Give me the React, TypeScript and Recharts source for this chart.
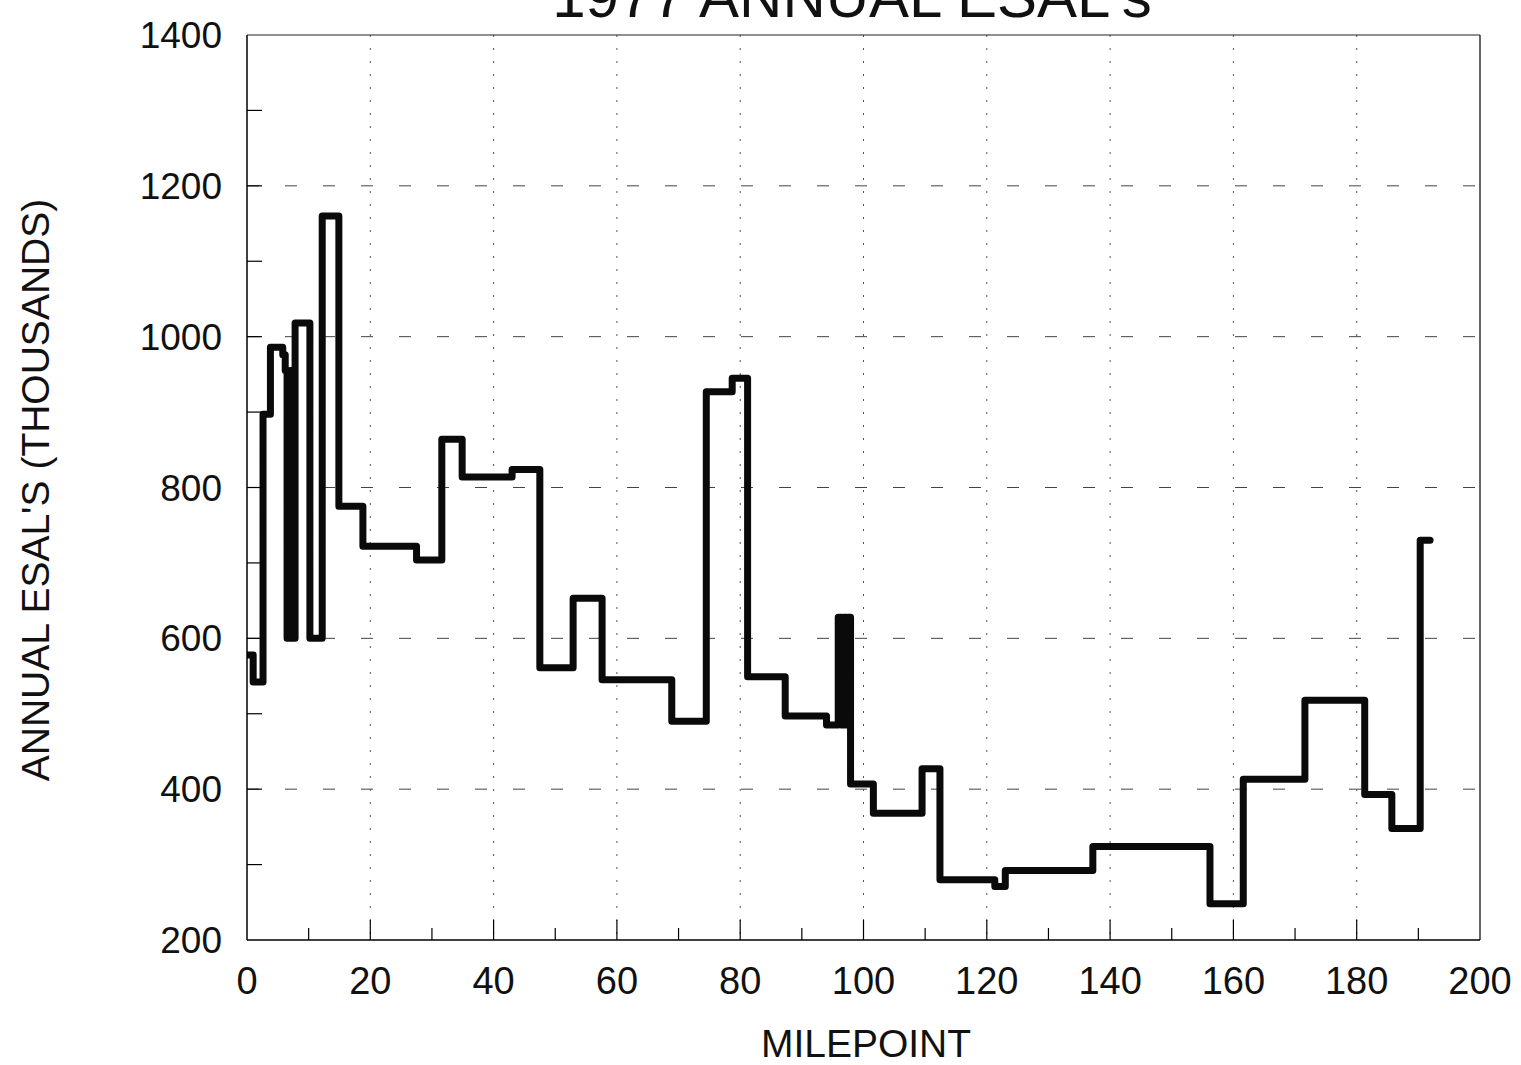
import React from "react";
import {
  LineChart,
  Line,
  XAxis,
  YAxis,
  CartesianGrid,
  ReferenceLine,
} from "recharts";

// Milepoint where each ESAL level begins (step-after)
const milepoints = [
  0, 1.0, 2.6, 3.8, 5.8, 6.2, 6.5, 7.0, 7.4, 7.8, 10.2, 12.2, 14.9, 18.8,
  27.5, 31.6, 34.9, 43.0, 47.5, 52.9, 57.6, 68.9, 74.5, 78.7, 81.2, 87.3,
  94.0, 95.9, 96.4, 96.8, 97.2, 97.5, 97.9, 101.6, 109.5, 112.4, 121.3, 123.0,
  137.2, 156.2, 161.6, 171.6, 181.3, 185.7, 190.3, 191.9,
];
// Annual ESALs (thousands)
const esals = [
  578, 542, 897, 986, 976, 955, 600, 955, 600, 1018, 600, 1160, 775, 722,
  704, 864, 814, 824, 561, 653, 545, 490, 927, 945, 549, 497,
  485, 628, 485, 628, 485, 628, 407, 368, 427, 280, 271, 292,
  324, 248, 413, 518, 393, 348, 730, 730,
];

const xTicks = [0, 10, 20, 30, 40, 50, 60, 70, 80, 90, 100, 110, 120, 130, 140, 150, 160, 170, 180, 190, 200];
const xGrid = [20, 40, 60, 80, 100, 120, 140, 160, 180];
const yTicks = [200, 300, 400, 500, 600, 700, 800, 900, 1000, 1100, 1200, 1300, 1400];
const yGrid = [400, 600, 800, 1000, 1200];

const titleText = "1977 ANNUAL ESAL's";
const xTitle = "MILEPOINT";
const yTitle = "ANNUAL ESAL'S (THOUSANDS)";

const data = milepoints.map((m, i) => ({ mile: m, esal: esals[i] }));

const FONT = "'Liberation Sans', Arial, Helvetica, sans-serif";

const XTick = (props: any) => {
  const { x, y, payload } = props;
  const v = payload.value;
  const major = v % 20 === 0;
  return (
    <g>
      {v !== 0 && v !== 200 && (
        <line x1={x} x2={x} y1={y} y2={y - (major ? 20 : 12)} stroke="#000" strokeWidth={1.2} />
      )}
      {major && (
        <text x={x} y={y + 54} textAnchor="middle" fontSize={38} fontFamily={FONT} fill="#111">
          {v}
        </text>
      )}
    </g>
  );
};

const YTick = (props: any) => {
  const { x, y, payload } = props;
  const v = payload.value;
  const major = v % 200 === 0;
  return (
    <g>
      {v !== 200 && v !== 1400 && (
        <line x1={x} x2={x + 15} y1={y} y2={y} stroke="#000" strokeWidth={1.2} />
      )}
      {major && (
        <text x={x - 25} y={y + 13} textAnchor="end" fontSize={37} fontFamily={FONT} fill="#111">
          {v}
        </text>
      )}
    </g>
  );
};

export default function App() {
  return (
    <div style={{ position: "absolute", left: 0, top: 0, width: 1521, height: 1065, background: "#fff" }}>
      <LineChart
        width={1521}
        height={1065}
        data={data}
        margin={{ top: 35, right: 41, bottom: 65, left: 147 }}
      >
        <CartesianGrid
          horizontal={true}
          vertical={false}
          horizontalValues={yGrid}
          stroke="#444"
          strokeDasharray="12 26"
          strokeWidth={1}
        />
        <CartesianGrid
          horizontal={false}
          vertical={true}
          verticalValues={xGrid}
          stroke="#555"
          strokeDasharray="2 11"
          strokeWidth={1}
        />
        <XAxis
          dataKey="mile"
          type="number"
          domain={[0, 200]}
          ticks={xTicks}
          interval={0}
          tickSize={0}
          tickMargin={0}
          tickLine={false}
          height={60}
          axisLine={{ stroke: "#000", strokeWidth: 1.5 }}
          tick={<XTick />}
          allowDataOverflow
        />
        <YAxis
          type="number"
          domain={[200, 1400]}
          ticks={yTicks}
          interval={0}
          tickSize={0}
          tickMargin={0}
          tickLine={false}
          width={100}
          axisLine={{ stroke: "#000", strokeWidth: 1.5 }}
          tick={<YTick />}
          allowDataOverflow
        />
        <ReferenceLine x={200} stroke="#000" strokeWidth={1.2} />
        <ReferenceLine y={1400} stroke="#222" strokeWidth={1.2} />
        <Line
          type="stepAfter"
          dataKey="esal"
          stroke="#0a0a0a"
          strokeWidth={7}
          strokeLinejoin="round"
          strokeLinecap="round"
          dot={false}
          activeDot={false}
          isAnimationActive={false}
        />
      </LineChart>
      <svg
        width={1521}
        height={1065}
        style={{ position: "absolute", left: 0, top: 0, pointerEvents: "none" }}
      >
        <text x={852} y={17} textAnchor="middle" fontSize={60} fontFamily={FONT} fill="#111">
          {titleText}
        </text>
        <text x={866} y={1057} textAnchor="middle" fontSize={39} fontFamily={FONT} fill="#111">
          {xTitle}
        </text>
        <text
          x={0}
          y={0}
          transform="translate(49,490) rotate(-90)"
          textAnchor="middle"
          fontSize={39}
          fontFamily={FONT}
          fill="#111"
        >
          {yTitle}
        </text>
      </svg>
    </div>
  );
}
